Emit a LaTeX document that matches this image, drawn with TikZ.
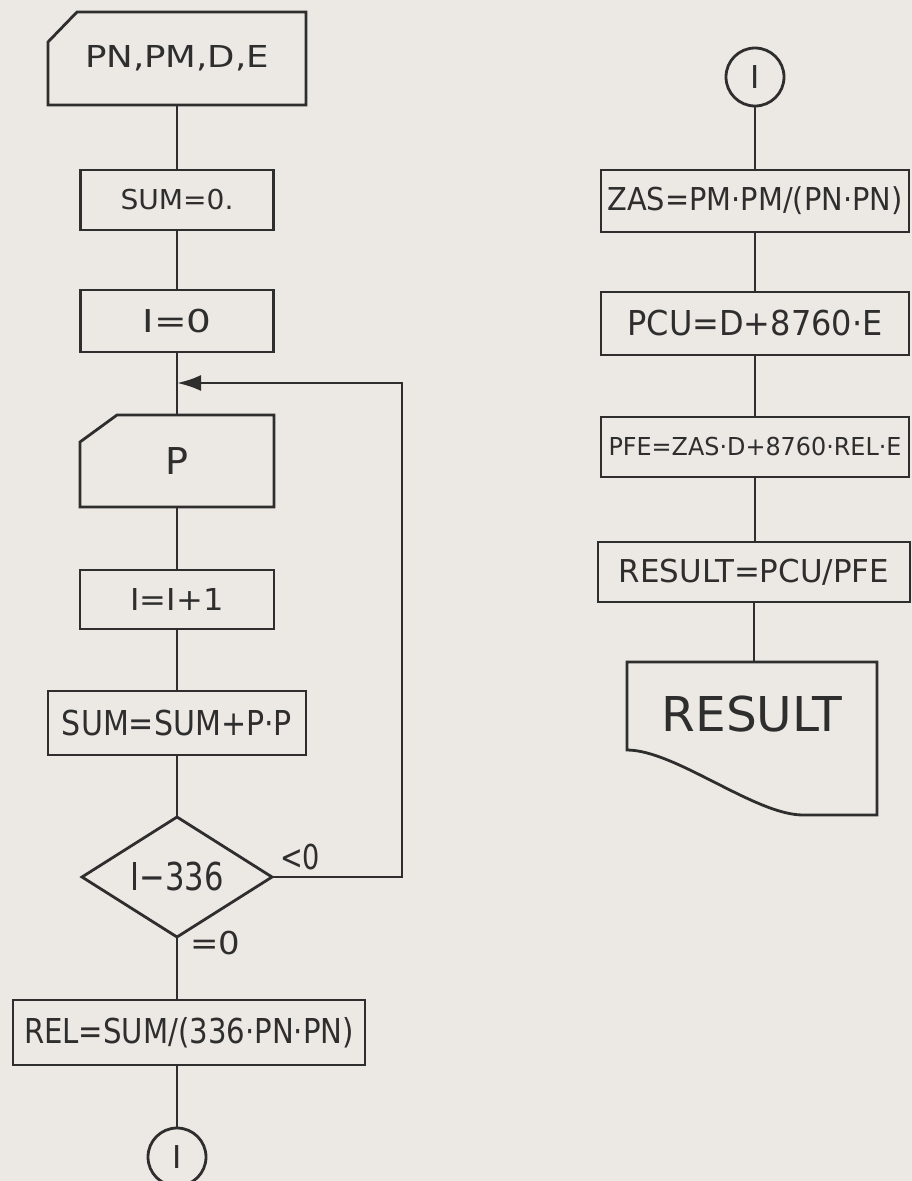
\documentclass[tikz,border=0pt]{standalone}
\usepackage{fontspec}
\setmainfont{DejaVu Sans}
\usepackage{graphicx}
\usetikzlibrary{arrows.meta,calc}
\newcommand{\fitt}[3]{\resizebox{#1pt}{\height}{\fontsize{#2pt}{#2pt}\selectfont #3}}
\definecolor{ink}{HTML}{2E2E2E}
\definecolor{paper}{HTML}{ECE9E4}
\begin{document}
\begin{tikzpicture}[x=1pt,y=-1pt,
  ln/.style={draw=ink,line width=2.8pt},
  blk/.style={rectangle,inner sep=0pt,outer sep=0pt,text=ink},
  pbox/.style={blk,ln},
  conn/.style={circle,ln,inner sep=0pt,outer sep=0pt,minimum size=58pt,text=ink,font=\fontsize{31.5pt}{31.5pt}\selectfont},
  lbl/.style={inner sep=0pt,text=ink}]
\fill[paper] (0,0) rectangle (912,1181);
\useasboundingbox (0,0) rectangle (912,1181);
\clip (0,0) rectangle (912,1181);

% left column
\node[blk,minimum width=258pt,minimum height=93pt] (in1) at (177,58.5) {\fitt{184}{30.2}{PN,PM,D,E}};
\draw[ln] ($(in1.north west)+(29,0)$) -- (in1.north east) -- (in1.south east) -- (in1.south west) -- ($(in1.north west)+(0,30)$) -- cycle;
\node[pbox,minimum width=193pt,minimum height=60pt] (s0) at (177,200) {\fitt{113}{27.4}{SUM=0.}};
\node[pbox,minimum width=193pt,minimum height=62pt] (i0) at (177,321) {\fitt{69}{31.5}{I=0}};
\coordinate (j) at (177,383);
\node[blk,minimum width=194pt,minimum height=92pt] (inP) at (177,461) {\fitt{23}{37}{P}};
\draw[ln] ($(inP.north west)+(37,0)$) -- (inP.north east) -- (inP.south east) -- (inP.south west) -- ($(inP.north west)+(0,27)$) -- cycle;
\node[pbox,minimum width=194pt,minimum height=59pt] (inc) at (177,599.5) {\fitt{93}{30.2}{I=I+1}};
\node[pbox,minimum width=258pt,minimum height=64pt] (sum) at (177,723) {\fitt{230}{34.3}{SUM=SUM+P·P}};
\node[blk,minimum width=190pt,minimum height=120pt] (dec) at (177,877) {\fitt{93}{38.4}{I−336}};
\draw[ln] (dec.north) -- (dec.east) -- (dec.south) -- (dec.west) -- cycle;
\node[pbox,minimum width=352pt,minimum height=65pt] (rel) at (189,1032.5) {\fitt{330}{34.3}{REL=SUM/(336·PN·PN)}};
\node[conn] (c1) at (177,1157) {I};
\node[lbl] (lt) at (300,857) {\fitt{40}{34.3}{<0}};
\node[lbl] (eq) at (215,943) {\fitt{50}{31.5}{=0}};

\draw[ln] (in1) -- (s0);
\draw[ln] (s0) -- (i0);
\draw[ln] (i0) -- (inP);
\draw[ln] (inP) -- (inc);
\draw[ln] (inc) -- (sum);
\draw[ln] (sum) -- (dec);
\draw[ln] (dec.south) -- (dec.south |- rel.north);
\draw[ln] (c1.north |- rel.south) -- (c1.north);
\draw[ln,-{Latex[length=24pt,width=16pt]}] (dec.east) -- ++(130,0) |- (j);

% right column
\node[conn] (c2) at (755,77) {I};
\node[pbox,minimum width=308pt,minimum height=62pt] (zas) at (755,201) {\fitt{295}{31.5}{ZAS=PM·PM/(PN·PN)}};
\node[pbox,minimum width=308pt,minimum height=63pt] (pcu) at (755,323.5) {\fitt{255}{34.3}{PCU=D+8760·E}};
\node[pbox,minimum width=308pt,minimum height=60pt] (pfe) at (755,447) {\fitt{293}{24.7}{PFE=ZAS·D+8760·REL·E}};
\node[pbox,minimum width=312pt,minimum height=60pt] (rsl) at (754,572) {\fitt{270}{31.5}{RESULT=PCU/PFE}};
\node[blk,minimum width=250pt,minimum height=153pt] (res) at (752,738.5) {};
\node[lbl] (restxt) at (752,714.5) {\fitt{181}{48}{RESULT}};
\draw[ln] (res.north west) -- (res.north east) -- (res.south east) -- ($(res.south west)+(176,0)$) .. controls ($(res.south west)+(128,0)$) and ($(res.south west)+(48,-65)$) .. ($(res.south west)+(0,-65)$) -- cycle;

\draw[ln] (c2) -- (zas);
\draw[ln] (zas) -- (pcu);
\draw[ln] (pcu) -- (pfe);
\draw[ln] (pfe.south) -- (pfe.south |- rsl.north);
\draw[ln] (rsl.south) -- (rsl.south |- res.north);
\end{tikzpicture}
\end{document}
